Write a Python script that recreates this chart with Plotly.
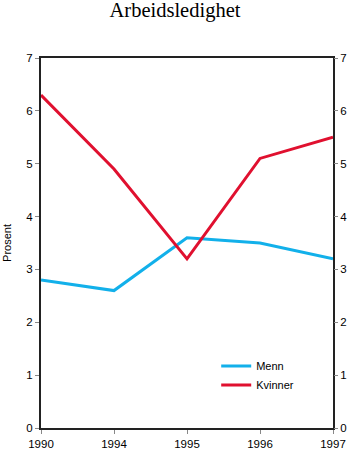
import plotly.graph_objects as go

years = ["1990", "1994", "1995", "1996", "1997"]
menn = [2.8, 2.6, 3.6, 3.5, 3.2]
kvinner = [6.3, 4.9, 3.2, 5.1, 5.5]

font = dict(family="Liberation Sans, Arial, sans-serif", size=11.5, color="#000")
legend_font = dict(family="Liberation Sans, Arial, sans-serif", size=11, color="#000")

fig = go.Figure()
fig.add_trace(go.Scatter(x=years, y=menn, name="Menn", mode="lines",
                         line=dict(color="#12b0ea", width=3)))
fig.add_trace(go.Scatter(x=years, y=kvinner, name="Kvinner", mode="lines",
                         line=dict(color="#e0102f", width=3)))
# invisible trace to carry the right-hand axis
fig.add_trace(go.Scatter(x=years, y=menn, yaxis="y2", mode="lines",
                         line=dict(width=0), opacity=0, showlegend=False,
                         hoverinfo="skip"))

axis_common = dict(showgrid=False, zeroline=False, ticks="outside", ticklen=4,
                   tickcolor="#888", tickwidth=1, tickfont=font)

fig.update_layout(
    width=350, height=453,
    margin=dict(l=41, r=17, t=58, b=25),
    paper_bgcolor="white", plot_bgcolor="white",
    title=dict(text="Arbeidsledighet", x=0.5, xanchor="center", y=0.978,
               yanchor="middle",
               font=dict(family="Liberation Serif, Times New Roman, serif",
                         size=20.5, color="#000")),
    xaxis=dict(type="category", range=[0, 4], showline=True, linecolor="#222",
               linewidth=2, mirror=True, automargin=False, **axis_common),
    yaxis=dict(range=[0, 7], dtick=1, showline=True, linecolor="#222",
               linewidth=2, mirror=True, automargin=False,
               title=dict(text="Prosent", font=legend_font, standoff=12),
               **axis_common),
    yaxis2=dict(range=[0, 7], dtick=1, overlaying="y", side="right",
                showline=False, automargin=False, **axis_common),
    legend=dict(x=0.6, y=0.207, xanchor="left", yanchor="top",
                bgcolor="rgba(0,0,0,0)", font=legend_font, tracegroupgap=0,
                itemwidth=30),
    showlegend=True,
)

fig.write_html("out.html")
